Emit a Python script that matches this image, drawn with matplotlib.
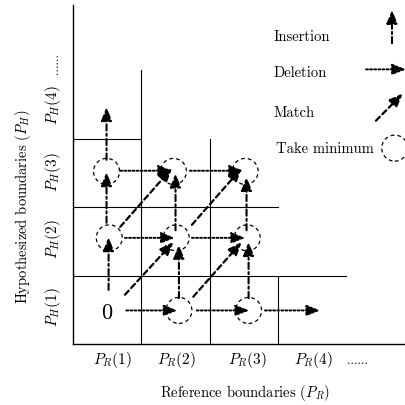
import matplotlib
matplotlib.use("Agg")
import matplotlib.pyplot as plt
import matplotlib.patches as mpatches

plt.rcParams['font.family'] = 'serif'
plt.rcParams['font.serif'] = ['cmr10']
plt.rcParams['mathtext.fontset'] = 'cm'
plt.rcParams['axes.unicode_minus'] = False

# staircase grid: (x, y_top) for vertical lines, (y, x_right) for horizontal ones
vlines = [(1, 4), (2, 3), (3, 1)]
hlines = [(1, 4), (2, 3), (3, 1)]

# "take minimum" circles
circles = [(1.55, 0.49), (2.57, 0.49), (0.53, 1.55), (1.51, 1.55), (2.55, 1.55),
           (0.49, 2.52), (1.47, 2.52), (2.52, 2.52)]

# arrows (x0, y0, x1, y1)
deletions = [(0.78, 0.49, 1.53, 0.49), (1.81, 0.49, 2.58, 0.49), (2.81, 0.49, 3.62, 0.49),
             (0.76, 1.55, 1.49, 1.55), (1.74, 1.55, 2.52, 1.55),
             (0.69, 2.53, 1.45, 2.53), (1.71, 2.53, 2.49, 2.53)]
insertions = [(0.52, 0.79, 0.52, 1.56), (0.49, 1.77, 0.49, 2.51), (0.49, 2.69, 0.49, 3.46),
              (1.55, 0.67, 1.55, 1.45), (1.50, 1.66, 1.50, 2.49),
              (2.57, 0.67, 2.57, 1.49), (2.54, 1.66, 2.54, 2.44)]
matches = [(0.76, 0.72, 1.47, 1.49), (1.76, 0.69, 2.47, 1.49),
           (0.69, 1.71, 1.45, 2.57), (1.74, 1.74, 2.47, 2.57)]

xticks = [0.57, 1.52, 2.55, 3.52]
xlabels = ['$P_R(1)$', '$P_R(2)$', '$P_R(3)$', '$P_R(4)$']
yticks = [0.54, 1.53, 2.51, 3.49]
ylabels = ['$P_H(1)$', '$P_H(2)$', '$P_H(3)$', '$P_H(4)$']

legend_names = ['Insertion', 'Deletion', 'Match', 'Take minimum']


def arrow(ax, x0, y0, x1, y1, ls, lw=1.5):
    ax.annotate('', xy=(x1, y1), xytext=(x0, y0),
                arrowprops=dict(arrowstyle='-|>,head_length=0.6,head_width=0.24',
                                linestyle=ls, lw=lw, color='black',
                                shrinkA=0, shrinkB=0, mutation_scale=13.5),
                annotation_clip=False)


fig = plt.figure(figsize=(4.06, 4.05), dpi=100)
ax = fig.add_axes([0.18, 0.1506, 0.82, 0.8371])
ax.set_xlim(0, 4.875)
ax.set_ylim(0, 4.95)
for s in ['top', 'right']:
    ax.spines[s].set_visible(False)
for s in ['left', 'bottom']:
    ax.spines[s].set_linewidth(1.0)
ax.set_xticks([])
ax.set_yticks([])

for x, ytop in vlines:
    ax.plot([x, x], [0, ytop], color='black', lw=0.8)
for y, xr in hlines:
    ax.plot([0, xr], [y, y], color='black', lw=0.8)

for cx, cy in circles:
    ax.add_patch(mpatches.Ellipse((cx, cy), 0.38, 0.38, fill=False,
                                  linestyle=(0, (3, 2.5)), lw=0.9, color='black'))

dot = (0, (1, 1.1))
dashdot = (0, (3, 1.5, 1, 1.5))
dash = (0, (2.5, 1.6))
for a in deletions:
    arrow(ax, *a, dot, 1.4)
for a in insertions:
    arrow(ax, *a, dashdot)
for a in matches:
    arrow(ax, *a, dash, 1.6)

ax.text(0.49, 0.45, '0', fontsize=16, ha='center', va='center')

# legend
ly = [4.48, 3.96, 3.37, 2.85]
for name, y in zip(legend_names, ly):
    ax.text(2.93 if name != 'Take minimum' else 2.97, y, name, fontsize=10.5,
            ha='left', va='center')
arrow(ax, 4.67, 4.39, 4.67, 4.88, dashdot)
arrow(ax, 4.29, 4.01, 4.875, 4.01, dot, 1.4)
arrow(ax, 4.435, 3.26, 4.83, 3.66, dash, 1.6)
ax.add_patch(mpatches.Ellipse((4.71, 2.86), 0.38, 0.38, fill=False,
                              linestyle=(0, (3, 2.5)), lw=0.9, color='black'))

# tick labels
for x, lab in zip(xticks, xlabels):
    ax.text(x, -0.24, lab, fontsize=11, ha='center', va='center')
ax.text(4.16, -0.24, '......', fontsize=9, ha='center', va='center')
for y, lab in zip(yticks, ylabels):
    ax.text(-0.29, y, lab, fontsize=11, ha='center', va='center', rotation=90)
ax.text(-0.26, 4.1, '......', fontsize=9, ha='center', va='center', rotation=90)

ax.text(2.52, -0.72, 'Reference boundaries ($P_R$)', fontsize=10.5,
        ha='center', va='center')
ax.text(-0.73, 2.0, 'Hypothesized boundaries ($P_H$)', fontsize=10.5,
        ha='center', va='center', rotation=90)

fig.savefig('out.png', dpi=100)
